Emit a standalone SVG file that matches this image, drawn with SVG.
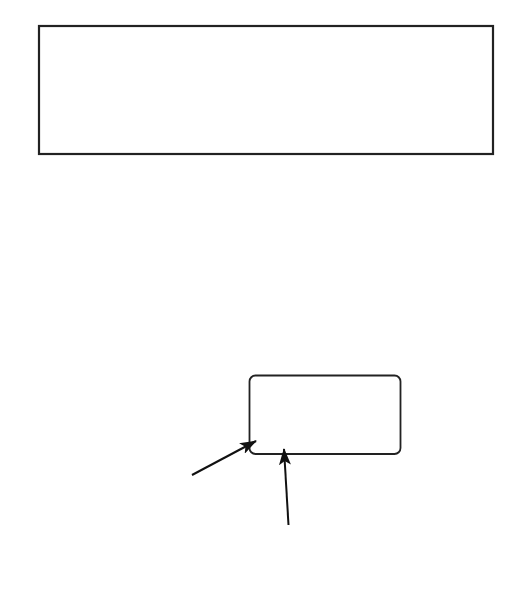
<svg xmlns="http://www.w3.org/2000/svg" width="532" height="614" viewBox="0 0 532 614">
<style>
.box{fill:#fff;stroke:#222;stroke-width:2.2}
.rbox{fill:#fff;stroke:#222;stroke-width:1.8}
.conn{stroke:#111;stroke-width:2;fill:none;marker-end:url(#ah)}
</style>
<defs>
<marker id="ah" markerUnits="userSpaceOnUse" markerWidth="17" markerHeight="12" refX="16" refY="6" orient="auto">
<path d="M0,0 L17,6 L0,12 L4,6 Z" fill="#111"/>
</marker>
</defs>
<rect width="532" height="614" fill="#fff"/>
<g id="top-box"><rect class="box" x="39" y="26" width="454" height="128"/></g>
<g id="small-box"><rect class="rbox" x="249.5" y="375.5" width="151" height="78.5" rx="6"/></g>
<g id="connectors">
<path class="conn" d="M192,475 L256,441"/>
<path class="conn" d="M288.5,525 L284,449"/>
</g>
</svg>
